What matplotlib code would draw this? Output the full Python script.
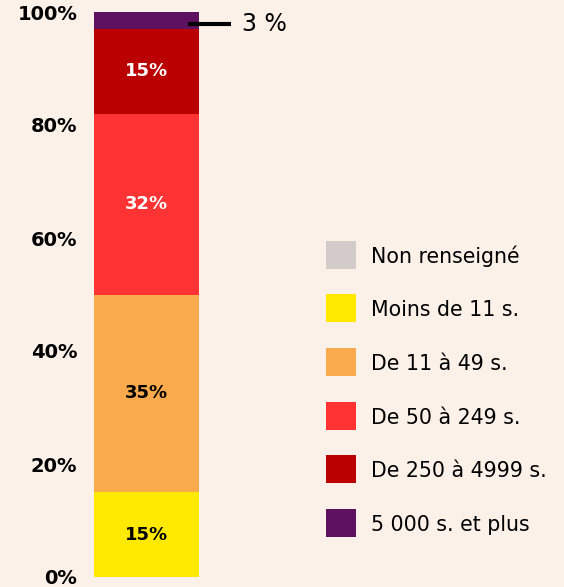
import matplotlib
matplotlib.use("Agg")
import matplotlib.pyplot as plt
from matplotlib.patches import Rectangle
from matplotlib.transforms import offset_copy

categories = ["Non renseigné", "Moins de 11 s.", "De 11 à 49 s.", "De 50 à 249 s.",
              "De 250 à 4999 s.", "5 000 s. et plus"]
values = [0, 15, 35, 32, 15, 3]
colors = ["#D3CACA", "#FFE900", "#F9AA4C", "#FF3333", "#BA0000", "#5E1160"]
label_colors = ["black", "black", "black", "white", "white", "white"]
yticks = [0, 20, 40, 60, 80, 100]
ytick_labels = ["0%", "20%", "40%", "60%", "80%", "100%"]

BG = "#FBF1E8"
plt.rcParams["font.family"] = ["DejaVu Sans"]

W, H = 564, 587
fig = plt.figure(figsize=(W / 100, H / 100), dpi=100, facecolor=BG)
ax = fig.add_axes([94 / W, 1 - 577 / H, 105 / W, 565 / H])
ax.set_facecolor(BG)

bottom = 0
for cat, v, c, lc in zip(categories, values, colors, label_colors):
    ax.bar(0, v, width=1.0, bottom=bottom, color=c, linewidth=0)
    if v >= 10:
        ax.text(0, bottom + v / 2, f"{v}%", ha="center", va="center",
                color=lc, fontsize=13, fontweight="bold")
    bottom += v

# small-segment annotation (slightly below the segment centre, as in the source)
last = values[-1]
ymid = bottom - last / 2
tr = offset_copy(ax.transData, fig=fig, x=0, y=-2.5, units="points")
ax.plot([0.395, 0.805], [ymid, ymid], color="black", lw=3, clip_on=False,
        solid_capstyle="butt", transform=tr)
ax.text(0.91, ymid, f"{last} %", ha="left", va="center", fontsize=17,
        color="black", clip_on=False, transform=tr)

ax.set_xlim(-0.5, 0.5)
ax.set_ylim(0, 100)
ax.set_xticks([])
ax.set_yticks(yticks)
ax.set_yticklabels(ytick_labels, fontsize=14, fontweight="bold")
ax.tick_params(axis="y", length=0, pad=12)
for s in ax.spines.values():
    s.set_visible(False)

# legend (manual, in figure pixel coordinates)
sw, sh, pitch, top0, x0, tx = 30, 28, 53.6, 240.7, 326, 371
for i, (cat, c) in enumerate(zip(categories, colors)):
    top = top0 + i * pitch
    fig.add_artist(Rectangle((x0 / W, 1 - (top + sh) / H), sw / W, sh / H,
                             transform=fig.transFigure, facecolor=c,
                             edgecolor="none"))
    fig.text(tx / W, 1 - (top + sh / 2) / H, cat, ha="left",
             va="center_baseline", fontsize=14.8, color="black")

fig.savefig("out.png", dpi=100, facecolor=BG)
